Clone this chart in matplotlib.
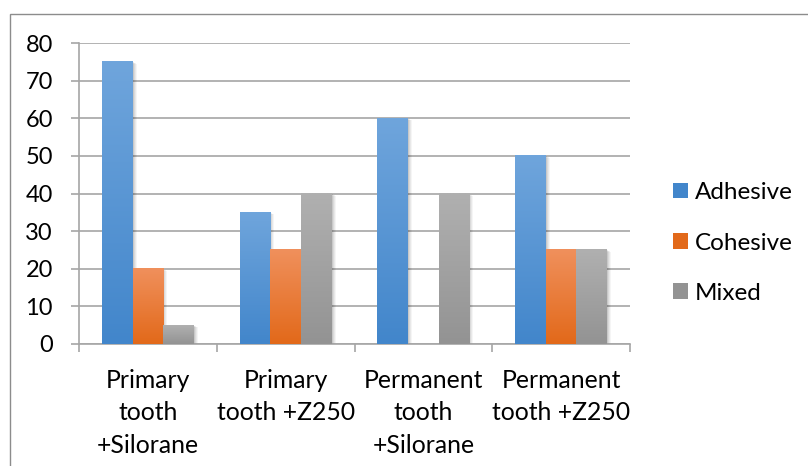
import matplotlib.pyplot as plt
import numpy as np
from matplotlib.patches import Rectangle, Patch
from matplotlib.colors import LinearSegmentedColormap

plt.rcParams['font.family'] = ['Lato', 'DejaVu Sans']

categories = ["Primary\ntooth\n+Silorane", "Primary\ntooth +Z250",
              "Permanent\ntooth\n+Silorane", "Permanent\ntooth +Z250"]
series = ["Adhesive", "Cohesive", "Mixed"]
adhesive = [75, 35, 60, 50]
cohesive = [20, 25, 0, 25]
mixed = [5, 40, 40, 25]

# top colour, bottom colour for each series gradient
shades = {
    "Adhesive": ("#6fa5dc", "#4286cb"),
    "Cohesive": ("#f0905c", "#e2691a"),
    "Mixed": ("#b0b0b0", "#939393"),
}
grid_col = "#a6a6a6"

fig = plt.figure(figsize=(8.08, 4.66), dpi=100)
ax = fig.add_axes([79 / 808, 1 - 344 / 466, 551 / 808, 301 / 466])

# outer chart border
fig.patches.append(Rectangle((10 / 808, -0.1), 1.2, 1 - 14 / 466 + 0.1,
                             transform=fig.transFigure, fill=False,
                             edgecolor="#8c8c8c", linewidth=1.0))

x = np.arange(len(categories))
w = 1 / 4.5
px_x = 1 / 137.75
px_y = 80 / 301

for i, (name, vals) in enumerate(zip(series, [adhesive, cohesive, mixed])):
    top, bot = shades[name]
    cmap = LinearSegmentedColormap.from_list(name, [bot, top])
    grad = np.linspace(0, 1, 100).reshape(-1, 1)
    for xc, v in zip(x + (i - 1) * w, vals):
        if v <= 0:
            continue
        x0, x1 = xc - w / 2, xc + w / 2
        # soft drop shadow
        for k, a in zip([4, 3, 2, 1], [0.04, 0.05, 0.06, 0.08]):
            ax.add_patch(Rectangle((x0 + k * px_x, -0.3), w, v + 0.3 - k * px_y * 0.5,
                                   facecolor="black", alpha=a, linewidth=0, zorder=2))
        ax.imshow(grad, extent=(x0, x1, 0, v), origin="lower", cmap=cmap,
                  aspect="auto", zorder=3, interpolation="bilinear")

ax.set_xlim(-0.5, 3.5)
ax.set_ylim(0, 80)
ax.set_yticks(range(0, 81, 10))
ax.yaxis.grid(True, color=grid_col, linewidth=1.2)
ax.set_axisbelow(True)
for s in ["top", "right"]:
    ax.spines[s].set_visible(False)
ax.spines["left"].set_color(grid_col)
ax.spines["bottom"].set_color(grid_col)
ax.spines["left"].set_linewidth(1.2)
ax.spines["bottom"].set_linewidth(1.2)
ax.tick_params(axis="y", length=5.8, color=grid_col, width=1.2, labelsize=17, pad=13)
ax.set_xticks([-0.5, 0.5, 1.5, 2.5, 3.5])
ax.set_xticklabels([])
ax.tick_params(axis="x", length=5.8, color=grid_col, width=1.2)
for xc, lab in zip(x, categories):
    ax.text(xc, -6.6, lab, ha="center", va="top", fontsize=17.8,
            linespacing=1.5, transform=ax.transData)

handles = [Patch(facecolor=shades[n][1], edgecolor="none") for n in series]
fig.legend(handles, series, loc="center left",
           bbox_to_anchor=(673 / 808, 1 - 243 / 466), frameon=False,
           fontsize=17.5, handlelength=0.6, handleheight=0.6,
           handletextpad=0.3, labelspacing=1.2, borderpad=0, borderaxespad=0)

fig.savefig("out.png", dpi=100)
